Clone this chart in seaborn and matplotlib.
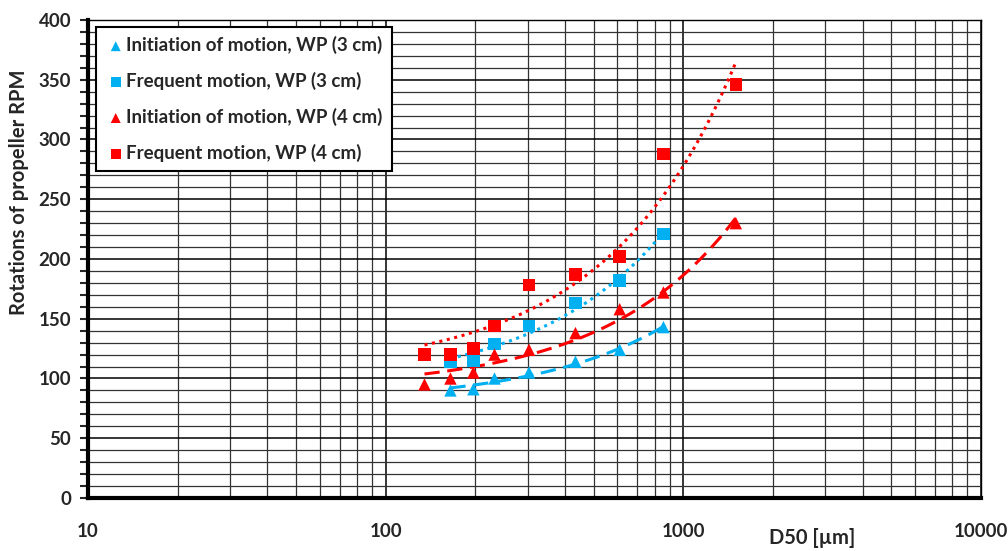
import numpy as np
import pandas as pd
import seaborn as sns
import matplotlib.pyplot as plt
from matplotlib.ticker import FixedLocator, NullFormatter, FixedFormatter

# D50 grain sizes [um]
d50_4cm = [135, 165, 197, 232, 303, 434, 611, 857, 1500]
d50_3cm = [165, 197, 232, 303, 434, 611, 857]

# rotations of propeller [RPM]
init_3cm = [90, 91, 100, 105, 114, 124, 143]
freq_3cm = [114, 115, 129, 144, 163, 182, 221]
init_4cm = [95, 100, 105, 120, 124, 138, 158, 172, 230]
freq_4cm = [120, 120, 125, 144, 178, 187, 202, 288, 346]

labels = ["Initiation of motion, WP (3 cm)", "Frequent motion, WP (3 cm)",
          "Initiation of motion, WP (4 cm)", "Frequent motion, WP (4 cm)"]

blue = "#00B0F0"
red = "#FF0000"

sns.set_style("white")
plt.rcParams['font.family'] = ['Lato', 'DejaVu Sans']
plt.rcParams['font.weight'] = 'bold'

fig = plt.figure(figsize=(10.08, 5.51), dpi=100)
ax = fig.add_axes([0.0873, 0.0962, 0.886, 0.8675])

series = [
    (d50_3cm, init_3cm, blue, '^', (5, 2.5)),
    (d50_3cm, freq_3cm, blue, 's', (1, 1.5)),
    (d50_4cm, init_4cm, red, '^', (5, 2.5)),
    (d50_4cm, freq_4cm, red, 's', (1, 1.5)),
]

# log axis first so the linear trendlines come out curved like in excel
ax.set_xscale('log')

for (xv, yv, col, mk, dash), lab in zip(series, labels):
    # linear trendline
    sns.regplot(x=xv, y=yv, ax=ax, scatter=False, ci=None, truncate=True,
                color=col, line_kws={'lw': 2.2, 'dashes': dash, 'zorder': 3})
    sns.scatterplot(x=xv, y=yv, ax=ax, color=col, marker=mk, s=80,
                    edgecolor='none', label=lab, zorder=4)

ax.set_xlim(10, 10000)
ax.set_ylim(0, 400)

ax.xaxis.set_major_locator(FixedLocator([10, 100, 1000, 10000]))
ax.xaxis.set_major_formatter(FixedFormatter(['10', '100', '1000', '10000']))
minors = [m * 10 ** e for e in range(1, 4) for m in range(2, 10)]
ax.xaxis.set_minor_locator(FixedLocator(minors))
ax.xaxis.set_minor_formatter(NullFormatter())
ax.set_yticks(np.arange(0, 401, 50))
ax.set_yticks(np.arange(0, 401, 10), minor=True)

ax.grid(which='major', axis='both', color='black', lw=1.1)
ax.grid(which='minor', axis='both', color='#333333', lw=0.9)
ax.set_axisbelow(True)

ax.tick_params(axis='x', which='both', length=0, pad=18, labelsize=13.5)
ax.tick_params(axis='y', which='major', length=6, width=1.5, direction='out',
               left=True, labelsize=13.5, pad=6)
ax.tick_params(axis='y', which='minor', length=6, width=1.5, direction='out', left=True)
for lab in ax.get_xticklabels() + ax.get_yticklabels():
    lab.set_fontweight('bold')

for side in ['left', 'bottom']:
    ax.spines[side].set_linewidth(3)
    ax.spines[side].set_color('black')
for side in ['top', 'right']:
    ax.spines[side].set_linewidth(1)
    ax.spines[side].set_color('black')

ax.set_ylabel('Rotations of propeller RPM', fontsize=14.5, fontweight='bold')
ax.yaxis.set_label_coords(-0.066, 0.64)
ax.set_xlabel('')
fig.text(0.806, 0.006, 'D50 [µm]', fontsize=14.5, fontweight='bold', ha='center', va='bottom')

leg = ax.legend(loc='upper left', bbox_to_anchor=(0.009, 0.986), frameon=True,
                fancybox=False, edgecolor='black', framealpha=1,
                prop={'size': 13.5, 'weight': 'bold'}, labelspacing=0.95,
                handletextpad=0.0, handlelength=1.1, borderpad=0.5, borderaxespad=0,
                markerscale=0.8)
leg.get_frame().set_linewidth(1.5)

fig.savefig('out.png', dpi=100)
